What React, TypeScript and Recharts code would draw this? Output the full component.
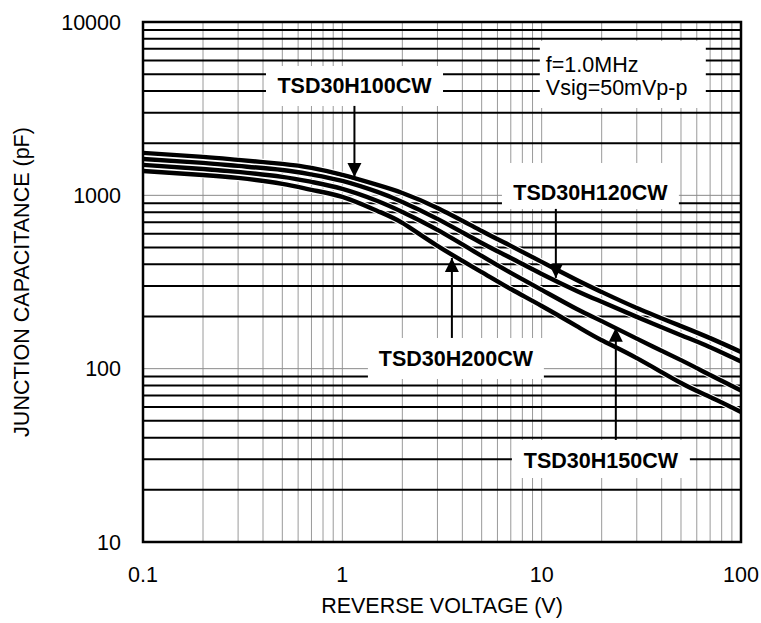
import React from 'react';
import { LineChart, Line, XAxis, YAxis, ReferenceLine, ReferenceArea, ReferenceDot, Label } from 'recharts';

// reverse voltage (V) sample points
const voltage = [0.1, 0.2, 0.3, 0.5, 0.7, 1, 1.5, 2, 3, 5, 7, 10, 15, 20, 30, 50, 70, 100];
// junction capacitance (pF)
const capH100 = [1757, 1666, 1601, 1518, 1439, 1311, 1148, 1032, 846, 623, 511, 413, 325, 277, 224, 176, 150, 125];
const capH120 = [1622, 1538, 1478, 1401, 1320, 1211, 1046, 916, 731, 531, 435, 352, 281, 243, 199, 156, 133, 110];
const capH150 = [1498, 1420, 1365, 1277, 1195, 1089, 928, 802, 632, 447, 357, 285, 221, 188, 149, 112, 91.9, 74.8];
const capH200 = [1383, 1311, 1260, 1164, 1075, 979, 813, 693, 511, 361, 288, 230, 176, 146, 115, 82.7, 68.7, 56.3];

const xTicks = [0.1, 1, 10, 100];
const yTicks = [10, 100, 1000, 10000];
const xGrid = [0.2, 0.3, 0.4, 0.5, 0.6, 0.7, 0.8, 0.9, 1, 2, 3, 4, 5, 6, 7, 8, 9, 10, 20, 30, 40, 50, 60, 70, 80, 90];
const yGridDecade = [100, 1000];
const yGridMinor = [20, 30, 40, 50, 60, 70, 80, 90, 200, 300, 400, 500, 600, 700, 800, 900, 2000, 3000, 4000, 5000, 6000, 7000, 8000, 9000];

const seriesKeys = ['c100', 'c120', 'c150', 'c200'];

// part-number callouts: box in data coords, arrow x and tip value
const callouts = [
  { text: 'TSD30H100CW', x1: 0.414, x2: 3.2, y1: 3280, y2: 5580, base: 27, arrowX: 1.15, tipY: 1277, dir: 'down' },
  { text: 'TSD30H120CW', x1: 6.32, x2: 48.8, y1: 835, y2: 1538, base: 37, arrowX: 11.78, tipY: 334, dir: 'down' },
  { text: 'TSD30H200CW', x1: 1.344, x2: 10.26, y1: 87.2, y2: 150.4, base: 28, arrowX: 3.545, tipY: 435, dir: 'up' },
  { text: 'TSD30H150CW', x1: 7.09, x2: 55.4, y1: 23.4, y2: 38.8, base: 28, arrowX: 23.55, tipY: 172, dir: 'up' },
];

const FONT = '"Liberation Sans", Arial, sans-serif';
const FS = 21.5;

const data = voltage.map((v, i) => ({
  v,
  c100: capH100[i],
  c120: capH120[i],
  c150: capH150[i],
  c200: capH200[i],
}));

const YTitle = ({ viewBox }: any) => {
  const cx = 21;
  const cy = viewBox.y + viewBox.height / 2;
  return (
    <text x={cx} y={cy} transform={`rotate(-90 ${cx} ${cy})`} textAnchor="middle" dy="0.355em"
      fontSize={FS} fontFamily={FONT} fill="#000">
      JUNCTION CAPACITANCE (pF)
    </text>
  );
};

const Arrowhead = (dir: string) => (p: any) => {
  const { cx, cy } = p;
  const h = dir === 'down' ? -14 : 14;
  return <polygon points={`${cx},${cy} ${cx - 7},${cy + h} ${cx + 7},${cy + h}`} fill="#000" />;
};

export default function App() {
  return (
    <div style={{ position: 'absolute', left: 0, top: 0, width: 761, height: 623, background: '#fff' }}>
      <LineChart width={761} height={623} data={data} margin={{ top: 22, right: 20, bottom: 0, left: 0 }}>
        <XAxis dataKey="v" type="number" scale="log" domain={[0.1, 100]} ticks={xTicks} allowDataOverflow
          tickFormatter={(t) => String(t)} tickLine={false} axisLine={false} tickSize={0} tickMargin={25} height={81}
          tick={{ fill: '#000', fontSize: FS, fontFamily: FONT }}>
          <Label value="REVERSE VOLTAGE (V)" position="insideBottom" offset={10} fill="#000" fontSize={FS} fontFamily={FONT} />
        </XAxis>
        <YAxis type="number" scale="log" domain={[10, 10000]} ticks={yTicks} allowDataOverflow
          tickLine={false} axisLine={false} tickSize={0} tickMargin={22} width={143}
          tick={{ fill: '#000', fontSize: FS, fontFamily: FONT }}>
          <Label content={YTitle} />
        </YAxis>

        {xGrid.map((g) => (
          <ReferenceLine key={'x' + g} x={g} stroke="#9a9a9a" strokeWidth={1} zIndex={-60} />
        ))}
        {yGridDecade.map((g) => (
          <ReferenceLine key={'yd' + g} y={g} stroke="#8a8a8a" strokeWidth={1} zIndex={-60} />
        ))}
        {yGridMinor.map((g) => (
          <ReferenceLine key={'ym' + g} y={g} stroke="#000" strokeWidth={2} zIndex={-60} />
        ))}

        {callouts.map((c) => (
          <ReferenceArea key={'b' + c.text} x1={c.x1} x2={c.x2} y1={c.y1} y2={c.y2} fill="#fff" fillOpacity={1}
            stroke="none" zIndex={-40}
            label={(p: any) => (
              <text x={p.viewBox.x + p.viewBox.width / 2} y={p.viewBox.y + c.base} textAnchor="middle"
                fontSize={FS} fontWeight="bold" fontFamily={FONT} fill="#000">{c.text}</text>
            )} />
        ))}
        <ReferenceArea x1={9.79} x2={66.6} y1={3194} y2={7780} fill="#fff" fillOpacity={1} stroke="none" zIndex={-40}
          label={(p: any) => (
            <text fontSize={FS} fontFamily={FONT} fill="#000">
              <tspan x={p.viewBox.x + 6} y={p.viewBox.y + 31}>f=1.0MHz</tspan>
              <tspan x={p.viewBox.x + 6} y={p.viewBox.y + 54}>Vsig=50mVp-p</tspan>
            </text>
          )} />

        {seriesKeys.map((k) => [
          <Line key={k + 'w'} dataKey={k} type="natural" stroke="#fff" strokeWidth={6.5} dot={false}
            activeDot={false} isAnimationActive={false} />,
          <Line key={k} dataKey={k} type="natural" stroke="#000" strokeWidth={4.4} dot={false}
            activeDot={false} isAnimationActive={false} />,
        ])}

        <ReferenceArea x1={0.1} x2={100} y1={10} y2={10000} fill="none" stroke="#000" strokeWidth={2.5} zIndex={450} />

        {callouts.map((c) => (
          <ReferenceLine key={'s' + c.text} segment={[{ x: c.arrowX, y: c.dir === 'down' ? c.y1 : c.y2 }, { x: c.arrowX, y: c.tipY }]}
            stroke="#000" strokeWidth={2} zIndex={500} />
        ))}
        {callouts.map((c) => (
          <ReferenceDot key={'a' + c.text} x={c.arrowX} y={c.tipY} r={1} shape={Arrowhead(c.dir)} zIndex={510} />
        ))}
      </LineChart>
    </div>
  );
}
